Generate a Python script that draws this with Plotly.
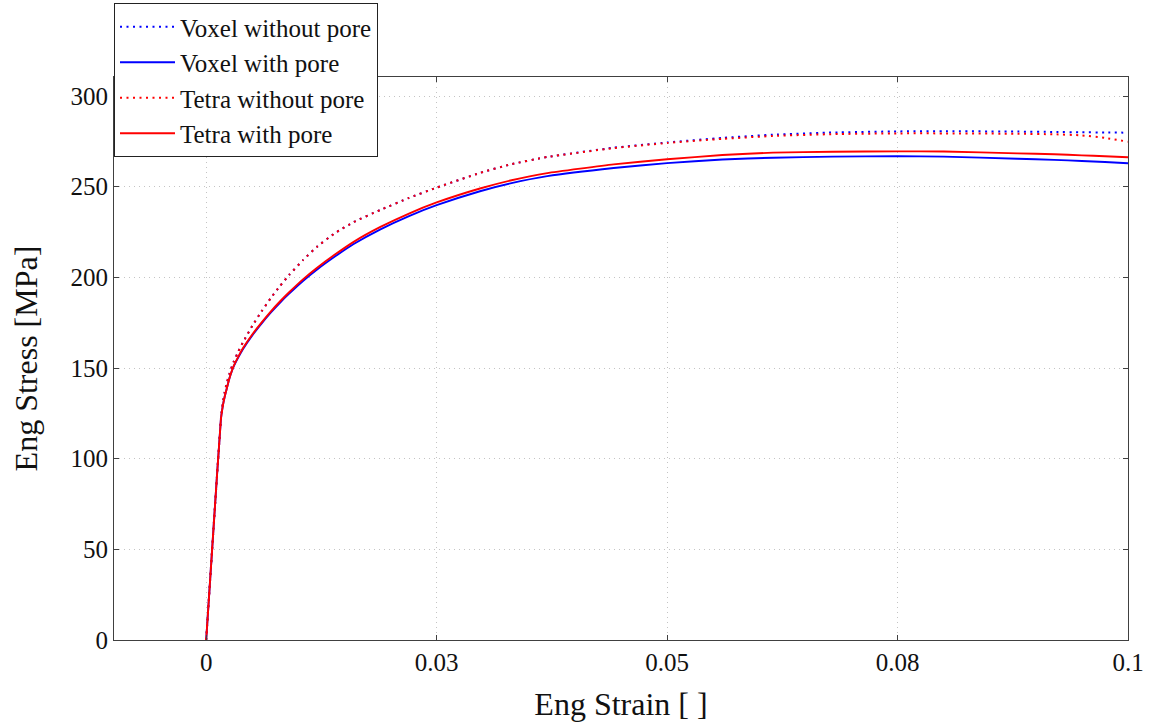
import plotly.graph_objects as go

# ---- data ----
strain = [0, 0.0008, 0.0016, 0.0018, 0.0020, 0.0022, 0.0025, 0.0028, 0.0030, 0.0035,
          0.0040, 0.0050, 0.0060, 0.0070, 0.0080, 0.0090, 0.0105, 0.0120, 0.0140, 0.0160,
          0.0189, 0.0220, 0.0250, 0.0297, 0.0330, 0.0370, 0.0442, 0.0500, 0.0560, 0.0615,
          0.0680, 0.0750, 0.0800, 0.0880, 0.0920, 0.0950, 0.0975, 0.1000]

stress_voxel_without = [0, 62, 122, 130.5, 136.5, 141, 146.5, 151, 153.6, 159.3,
                        164.3, 173.2, 181.2, 188.5, 195.2, 201.3, 209.5, 216.8, 224.5, 230.5,
                        237.2, 243.8, 249.5, 257.6, 262.3, 266.4, 271.5, 274.4, 276.9, 278.7,
                        279.9, 280.5, 280.6, 280.4, 280.2, 280.0, 279.9, 279.8]

stress_voxel_with = [0, 62, 122, 129, 134, 138, 144, 148.5, 151, 156,
                     160.5, 168, 174.5, 180.5, 186, 191, 198, 204.2, 211.6, 218.4,
                     226.5, 233.8, 239.8, 247.5, 251.8, 255.8, 260.3, 263.0, 265.0, 266.0,
                     266.6, 266.8, 266.6, 265.4, 264.8, 264.2, 263.6, 262.9]

stress_tetra_without = [0, 62, 122, 130.5, 136.5, 141, 146.5, 151, 153.6, 159.3,
                        164.3, 173.2, 181.2, 188.5, 195.2, 201.3, 209.5, 216.8, 224.5, 230.5,
                        237.2, 243.8, 249.5, 257.6, 262.3, 266.4, 271.3, 274.1, 276.4, 278.0,
                        279.0, 279.4, 279.4, 279.2, 278.9, 278.3, 276.9, 274.8]

stress_tetra_with = [0, 62, 122, 129, 134, 138, 144, 148.7, 151.3, 156.4,
                     161, 168.5, 175, 181.1, 186.7, 191.8, 198.9, 205.2, 212.7, 219.6,
                     227.8, 235.2, 241.3, 249.0, 253.4, 257.5, 262.3, 265.1, 267.5, 268.8,
                     269.3, 269.5, 269.4, 268.4, 267.9, 267.3, 266.8, 266.2]

x_tick_vals = [0, 0.025, 0.05, 0.075, 0.1]
x_tick_text = ["0", "0.03", "0.05", "0.08", "0.1"]
y_tick_vals = [0, 50, 100, 150, 200, 250, 300]

BLUE = "#0000FF"
RED = "#FF0000"
FONT = "Liberation Serif"
DOTS = "2px,4.5px"

fig = go.Figure()
fig.add_trace(go.Scatter(x=strain, y=stress_voxel_without, mode="lines",
                         name="Voxel without pore",
                         line=dict(color=BLUE, width=2, dash=DOTS, shape="spline", smoothing=0.4)))
fig.add_trace(go.Scatter(x=strain, y=stress_voxel_with, mode="lines",
                         name="Voxel with pore",
                         line=dict(color=BLUE, width=1.9, shape="spline", smoothing=0.4)))
fig.add_trace(go.Scatter(x=strain, y=stress_tetra_without, mode="lines",
                         name="Tetra without pore",
                         line=dict(color=RED, width=2, dash=DOTS, shape="spline", smoothing=0.4)))
fig.add_trace(go.Scatter(x=strain, y=stress_tetra_with, mode="lines",
                         name="Tetra with pore",
                         line=dict(color=RED, width=1.9, shape="spline", smoothing=0.4)))

axis_common = dict(
    showline=True, linecolor="#404040", linewidth=1, mirror="ticks",
    ticks="inside", ticklen=5, tickcolor="#404040", tickwidth=1,
    showgrid=True, gridcolor="#c4c4c4", griddash="1px,4px", gridwidth=1,
    zeroline=False, automargin=False,
    tickfont=dict(family=FONT, size=25, color="#111"),
)

fig.update_xaxes(range=[-0.01, 0.1], tickvals=x_tick_vals, ticktext=x_tick_text,
                 title=dict(text="Eng Strain [ ]", font=dict(family=FONT, size=32, color="#111"),
                            standoff=20),
                 **axis_common)
fig.update_yaxes(range=[0, 310.5], tickvals=y_tick_vals,
                 title=dict(text="Eng Stress [MPa]", font=dict(family=FONT, size=32, color="#111"),
                            standoff=23),
                 **axis_common)

fig.update_layout(
    width=1153, height=722,
    margin=dict(l=114, r=25, t=77, b=82, autoexpand=False),
    plot_bgcolor="white", paper_bgcolor="white",
    font=dict(family=FONT, color="#111"),
    legend=dict(x=0, y=1.1314, xanchor="left", yanchor="top",
                bgcolor="white", bordercolor="#222", borderwidth=1,
                font=dict(family=FONT, size=25, color="#111"),
                itemwidth=55, tracegroupgap=0),
    showlegend=True,
)

fig.write_html("out.html")
